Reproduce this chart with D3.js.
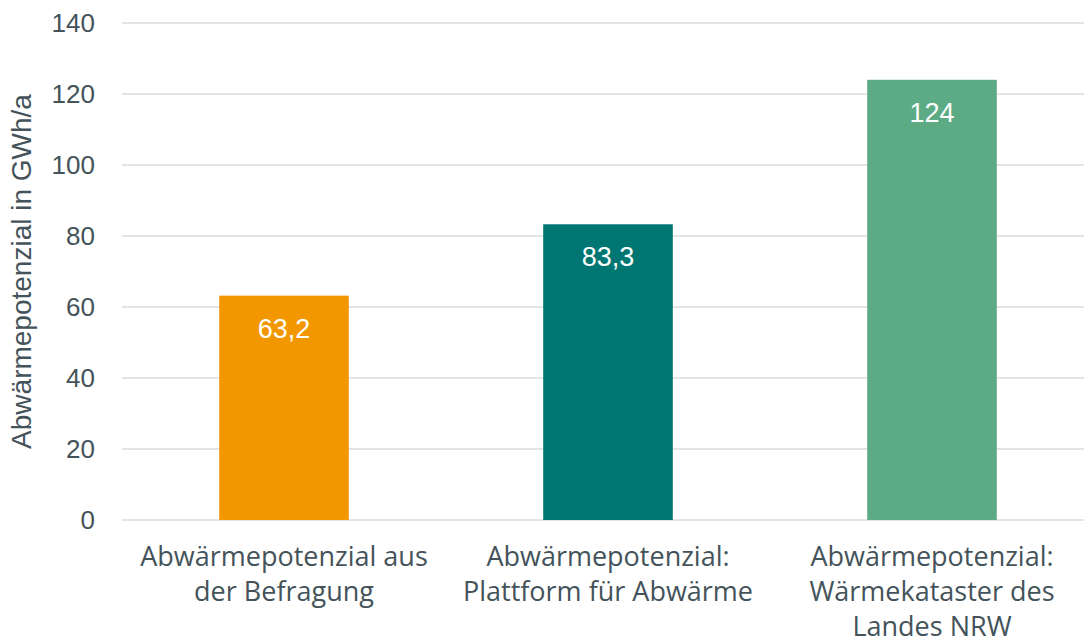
<!DOCTYPE html>
<html>
<head>
<meta charset="utf-8">
<script src="https://cdn.jsdelivr.net/npm/d3@7"></script>
<style>
  body { margin: 0; background: #fff; }
  svg { display: block; }
</style>
</head>
<body>
<div class="chart"></div>
<script>
// data
const categories = [
  ['Abwärmepotenzial aus', 'der Befragung'],
  ['Abwärmepotenzial:', 'Plattform für Abwärme'],
  ['Abwärmepotenzial:', 'Wärmekataster des', 'Landes NRW']
];
const values = [63.2, 83.3, 124];
const valueLabels = ['63,2', '83,3', '124'];
const colors = ['#F39700', '#007672', '#5DAB84'];
const yTicks = [0, 20, 40, 60, 80, 100, 120, 140];

const w = 1084;
const h = 643;
const textColor = '#44535A';

const svg = d3.select('.chart')
  .append('svg')
  .attr('width', w)
  .attr('height', h);

const x = d3.scaleBand()
  .domain(d3.range(values.length))
  .range([122, 1094])
  .paddingInner(0.6)
  .paddingOuter(0.3);

const y = d3.scaleLinear()
  .domain([0, 140])
  .range([520, 23]);

// gridlines
svg.append('g')
  .selectAll('line')
  .data(yTicks)
  .enter()
  .append('line')
  .attr('x1', 122)
  .attr('x2', w)
  .attr('y1', d => y(d))
  .attr('y2', d => y(d))
  .attr('stroke', '#D9DDE1')
  .attr('stroke-width', 1.5);

// y tick labels
svg.append('g')
  .selectAll('text')
  .data(yTicks)
  .enter()
  .append('text')
  .attr('x', 95)
  .attr('y', d => y(d))
  .attr('dy', '0.36em')
  .attr('text-anchor', 'end')
  .attr('fill', textColor)
  .attr('style', 'font: 26px "Liberation Sans", Arial, sans-serif;')
  .text(d => d);

// y title
svg.append('text')
  .attr('transform', `translate(31, ${(y(0) + y(140)) / 2}) rotate(-90)`)
  .attr('text-anchor', 'middle')
  .attr('fill', textColor)
  .attr('style', 'font: 28px "Liberation Sans", Arial, sans-serif;')
  .text('Abwärmepotenzial in GWh/a');

// bars
svg.append('g')
  .selectAll('rect')
  .data(values)
  .enter()
  .append('rect')
  .attr('x', (_, i) => x(i))
  .attr('y', d => y(d))
  .attr('width', x.bandwidth())
  .attr('height', d => y(0) - y(d))
  .attr('fill', (_, i) => colors[i]);

// value labels
svg.append('g')
  .selectAll('text')
  .data(values)
  .enter()
  .append('text')
  .attr('x', (_, i) => x(i) + x.bandwidth() / 2)
  .attr('y', d => y(d) + 42)
  .attr('text-anchor', 'middle')
  .attr('fill', '#fff')
  .attr('style', 'font: 27px "Liberation Sans", Arial, sans-serif;')
  .text((_, i) => valueLabels[i]);

// category labels
const cat = svg.append('g')
  .selectAll('text')
  .data(categories)
  .enter()
  .append('text')
  .attr('text-anchor', 'middle')
  .attr('fill', textColor)
  .attr('style', 'font: 27px "Open Sans", sans-serif;');

cat.selectAll('tspan')
  .data((d, i) => d.map(t => ({ t, i })))
  .enter()
  .append('tspan')
  .attr('x', d => x(d.i) + x.bandwidth() / 2)
  .attr('y', (_, j) => 566 + j * 35)
  .text(d => d.t);
</script>
</body>
</html>
